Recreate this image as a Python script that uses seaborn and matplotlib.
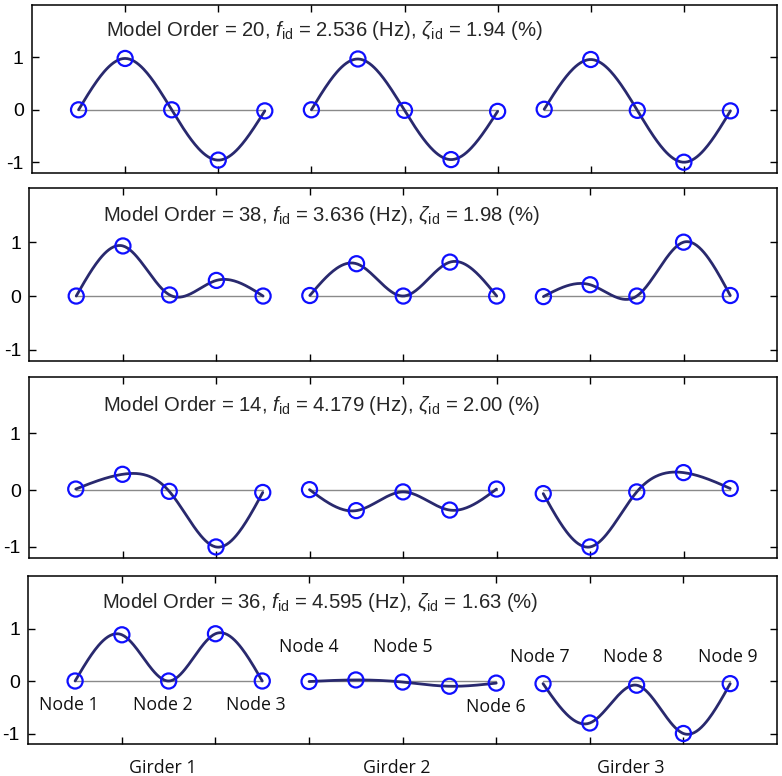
import numpy as np
import matplotlib
matplotlib.use('Agg')
import matplotlib.pyplot as plt
import seaborn as sns

# identified modes
model_orders = [20, 38, 14, 36]
freqs_hz = ['2.536', '3.636', '4.179', '4.595']
damping_pct = ['1.94', '1.98', '2.00', '1.63']

girders = ['Girder 1', 'Girder 2', 'Girder 3']
node_names = ['Node 1', 'Node 2', 'Node 3', 'Node 4', 'Node 5',
              'Node 6', 'Node 7', 'Node 8', 'Node 9']

# normalised mode shapes, 5 points per girder (supports + 3 nodes)
shape_1 = [0.00, 0.98, 0.00, -0.96, -0.02,
           0.00, 0.97, -0.01, -0.95, -0.03,
           0.01, 0.96, -0.01, -1.00, -0.02]
shape_2 = [0.00, 0.93, 0.02, 0.29, 0.00,
           0.01, 0.60, 0.00, 0.63, 0.00,
           -0.01, 0.21, 0.00, 1.00, 0.01]
shape_3 = [0.02, 0.28, -0.02, -1.00, -0.04,
           0.01, -0.36, -0.03, -0.35, 0.02,
           -0.06, -1.00, -0.03, 0.31, 0.03]
shape_4 = [0.00, 0.88, 0.00, 0.90, 0.00,
           -0.01, 0.02, -0.02, -0.10, -0.04,
           -0.05, -0.80, -0.08, -1.00, -0.05]
mode_shapes = [shape_1, shape_2, shape_3, shape_4]


def natural_spline(y, n=40):
    # natural cubic spline through equally spaced points (h = 1)
    y = np.asarray(y, float)
    k = len(y)
    A = np.zeros((k - 2, k - 2))
    rhs = np.zeros(k - 2)
    for i in range(1, k - 1):
        A[i - 1, i - 1] = 4
        if i > 1:
            A[i - 1, i - 2] = 1
        if i < k - 2:
            A[i - 1, i] = 1
        rhs[i - 1] = 6 * (y[i - 1] - 2 * y[i] + y[i + 1])
    M = np.zeros(k)
    M[1:-1] = np.linalg.solve(A, rhs)
    xs, ys = [], []
    for i in range(k - 1):
        t = np.linspace(0, 1, n, endpoint=(i == k - 2))
        s = (M[i] * (1 - t) ** 3 / 6 + M[i + 1] * t ** 3 / 6
             + (y[i] - M[i] / 6) * (1 - t) + (y[i + 1] - M[i + 1] / 6) * t)
        xs.append(i + t)
        ys.append(s)
    return np.concatenate(xs), np.concatenate(ys)


sns.set_style('ticks')
plt.rcParams['font.family'] = ['Liberation Sans', 'DejaVu Sans']
plt.rcParams['mathtext.fontset'] = 'custom'
plt.rcParams['mathtext.rm'] = 'Liberation Sans'
plt.rcParams['mathtext.it'] = 'Liberation Sans:italic'

W, H = 782, 776
fig = plt.figure(figsize=(W / 100, H / 100), dpi=100)

# panel boxes in pixels: left, top, right, bottom
boxes = [(32, 5, 777, 172.7), (29.5, 188.3, 777, 360.7),
         (29, 376.7, 777, 558.3), (28.3, 576, 777, 744)]

line_col = '#29296e'
mark_col = '#0f0fff'
lab_font = ['Open Sans', 'DejaVu Sans']

axes = []
for p, (l, t, r, b) in enumerate(boxes):
    ax = fig.add_axes([l / W, 1 - b / H, (r - l) / W, (b - t) / H])
    axes.append(ax)
    shape = mode_shapes[p]
    for g in range(3):
        seg = shape[g * 5:(g + 1) * 5]
        x0 = g * 5 + 1
        ax.plot([x0, x0 + 4], [0, 0], color='#8a8a8a', lw=1.0, zorder=1)
        sx, sy = natural_spline(seg)
        sns.lineplot(x=sx + x0, y=sy, ax=ax, color=line_col, lw=2.0,
                     sort=False, estimator=None, zorder=2)
        sns.scatterplot(x=np.arange(5) + x0, y=seg, ax=ax, s=118,
                        facecolor='none', edgecolor=mark_col,
                        linewidth=1.6, zorder=3)
    ax.text(1.58, 1.4,
            'Model Order = %d, $f_{\\rm id}$ = %s (Hz), $\\zeta_{\\rm id}$ = %s (%%)'
            % (model_orders[p], freqs_hz[p], damping_pct[p]),
            fontsize=14.6, va='baseline', ha='left')
    ax.set_xlim(0, 16)
    ax.set_ylim(-1.2, 2)
    ax.set_xticks(np.arange(2, 15, 2))
    ax.set_xticklabels([])
    ax.set_yticks([-1, 0, 1])
    ax.set_yticklabels(['-1', '0', '1'])
    ax.tick_params(direction='in', length=5, width=1, top=True, right=True,
                   labelsize=14, pad=6, colors='black')
    for sp in ax.spines.values():
        sp.set_linewidth(1.1)
        sp.set_color('black')
    ax.set_xlabel('')
    ax.set_ylabel('')

# node labels on the last panel
ax = axes[-1]
label_spots = [(1 - 0.13, -0.45), (3 - 0.13, -0.45), (5 - 0.13, -0.45),
               (6, 0.64), (8, 0.64), (10, -0.5),
               (11 - 0.07, 0.45), (13 - 0.08, 0.45), (15 - 0.05, 0.45)]
for name, (nx, ny) in zip(node_names, label_spots):
    ax.text(nx, ny, name, fontsize=12.8, family=lab_font, color='#111111',
            ha='center', va='center')
for g, name in enumerate(girders):
    ax.text(g * 5 + 3 - 0.12, -1.66, name, fontsize=12.8, family=lab_font,
            color='#111111', ha='center', va='center', clip_on=False)

fig.savefig('out.png', dpi=100)
